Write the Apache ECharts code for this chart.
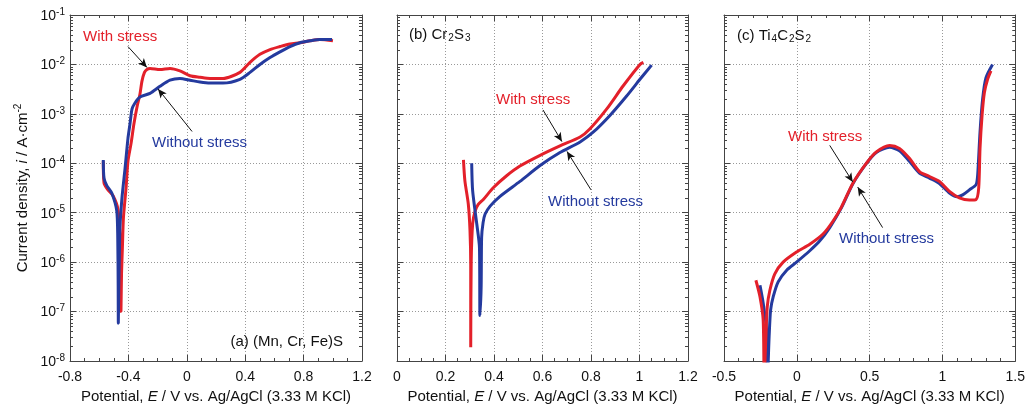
<!DOCTYPE html>
<html>
<head>
<meta charset="utf-8">
<script src="https://cdn.jsdelivr.net/npm/echarts@6/dist/echarts.min.js"></script>
<style>
  html, body { margin: 0; padding: 0; background: #fff; }
  #chart { width: 1028px; height: 409px; }
</style>
</head>
<body>
<div id="chart"></div>
<script>
// [E (V), i (A/cm2)]
const aWith = [
  [-0.572, 1.1e-4], [-0.567, 4e-5], [-0.540, 2.9e-5], [-0.505, 2.2e-5], [-0.471, 1.15e-5],
  [-0.458, 3.2e-6], [-0.452, 5e-7], [-0.451, 1e-7], [-0.447, 6e-7], [-0.441, 2e-6],
  [-0.434, 7.9e-6], [-0.416, 3.2e-5], [-0.403, 1.1e-4], [-0.382, 2.5e-4], [-0.362, 6.3e-4],
  [-0.341, 1.38e-3], [-0.321, 2.5e-3], [-0.307, 4.6e-3], [-0.290, 6.9e-3], [-0.273, 7.9e-3],
  [-0.252, 8.3e-3], [-0.184, 7.9e-3], [-0.115, 8.3e-3], [-0.047, 7.4e-3], [0.022, 5.9e-3],
  [0.09, 5.5e-3], [0.159, 5.2e-3], [0.248, 5.2e-3], [0.364, 6.9e-3], [0.433, 1.1e-2],
  [0.501, 1.6e-2], [0.570, 2.0e-2], [0.638, 2.3e-2], [0.707, 2.6e-2], [0.775, 2.75e-2],
  [0.844, 3.0e-2], [0.912, 3.2e-2], [1.001, 3.0e-2]
];
const aWithout = [
  [-0.572, 1.16e-4], [-0.567, 5.0e-5], [-0.547, 3.5e-5], [-0.514, 2.5e-5], [-0.480, 1.1e-5],
  [-0.473, 3.2e-6], [-0.470, 3.2e-7], [-0.469, 5.8e-8], [-0.466, 3.2e-7], [-0.462, 1.3e-6],
  [-0.458, 5e-6], [-0.444, 2e-5], [-0.423, 7.9e-5], [-0.403, 3.2e-4], [-0.389, 6.3e-4],
  [-0.375, 1.26e-3], [-0.355, 1.66e-3], [-0.321, 2.2e-3], [-0.252, 2.6e-3], [-0.184, 3.6e-3],
  [-0.115, 4.8e-3], [-0.047, 5.2e-3], [0.022, 4.8e-3], [0.09, 4.4e-3], [0.159, 4.2e-3],
  [0.248, 4.2e-3], [0.364, 5e-3], [0.433, 6.9e-3], [0.501, 1e-2], [0.570, 1.38e-2],
  [0.638, 1.8e-2], [0.707, 2.3e-2], [0.775, 2.75e-2], [0.844, 3.0e-2], [0.912, 3.2e-2],
  [0.995, 3.2e-2]
];
const bWith = [
  [0.274, 1.17e-4], [0.280, 4.4e-5], [0.294, 1.5e-5], [0.301, 4.4e-6], [0.304, 9e-7],
  [0.304, 1.9e-8], [0.306, 1e-6], [0.312, 6e-6], [0.322, 1.07e-5], [0.335, 1.47e-5],
  [0.356, 1.85e-5], [0.397, 3.2e-5], [0.452, 5.6e-5], [0.507, 8.8e-5], [0.590, 1.45e-4],
  [0.672, 2.25e-4], [0.755, 3.4e-4], [0.796, 5e-4], [0.865, 1.26e-3], [0.933, 3.7e-3],
  [1.002, 1e-2], [1.016, 1.1e-2]
];
const bWithout = [
  [0.308, 1e-4], [0.312, 2.75e-5], [0.329, 5.9e-6], [0.340, 2e-6], [0.342, 8.3e-8],
  [0.347, 3.2e-7], [0.349, 3.2e-6], [0.355, 6.3e-6], [0.363, 9.3e-6], [0.384, 1.36e-5],
  [0.425, 2.15e-5], [0.507, 4.3e-5], [0.590, 9e-5], [0.672, 1.65e-4], [0.755, 2.7e-4],
  [0.810, 4.3e-4], [0.878, 9.3e-4], [0.947, 2.3e-3], [1.002, 5e-3], [1.050, 9.7e-3]
];
const cWith = [
  [-0.281, 4.3e-7], [-0.253, 2e-7], [-0.231, 6.8e-8], [-0.224, 5e-9], [-0.212, 3.2e-8],
  [-0.203, 1.26e-7], [-0.185, 2.7e-7], [-0.151, 5.8e-7], [-0.094, 1e-6], [-0.002, 1.6e-6],
  [0.089, 2.3e-6], [0.180, 3.7e-6], [0.249, 6.8e-6], [0.306, 1.3e-5], [0.386, 4e-5],
  [0.477, 1e-4], [0.546, 1.7e-4], [0.637, 2.3e-4], [0.705, 2e-4], [0.773, 1.26e-4],
  [0.842, 6.8e-5], [0.911, 5.4e-5], [0.979, 4.3e-5], [1.048, 2.7e-5], [1.116, 2e-5],
  [1.185, 1.8e-5], [1.231, 1.85e-5], [1.249, 3.2e-5], [1.258, 2e-4], [1.272, 9.3e-4],
  [1.288, 2.7e-3], [1.310, 5e-3], [1.333, 7.4e-3]
];
const cWithout = [
  [-0.253, 3.4e-7], [-0.231, 1.5e-7], [-0.208, 4.3e-8], [-0.201, 5e-9], [-0.190, 3.2e-8],
  [-0.180, 1.07e-7], [-0.162, 2e-7], [-0.128, 4e-7], [-0.071, 6.8e-7], [-0.002, 1e-6],
  [0.089, 1.7e-6], [0.158, 2.7e-6], [0.226, 5e-6], [0.306, 1.25e-5], [0.386, 3.9e-5],
  [0.477, 9.8e-5], [0.546, 1.65e-4], [0.637, 2.1e-4], [0.705, 1.8e-4], [0.773, 1.1e-4],
  [0.842, 6.3e-5], [0.911, 5e-5], [0.979, 3.9e-5], [1.048, 2.5e-5], [1.100, 2.1e-5],
  [1.139, 2.3e-5], [1.185, 2.9e-5], [1.231, 3.7e-5], [1.242, 5.9e-5], [1.258, 4.3e-4],
  [1.276, 2e-3], [1.299, 5.4e-3], [1.344, 1e-2]
];

// arrow start / end, in data units, per panel
const arrowsA = [[[-0.403, 2.3e-2], [-0.273, 8.7e-3]], [[0.036, 4.4e-4], [-0.197, 3.2e-3]]];
const arrowsB = [[[0.602, 1.2e-3], [0.680, 2.75e-4]], [[0.800, 2.9e-5], [0.701, 1.74e-4]]];
const arrowsC = [[[0.226, 2.3e-4], [0.384, 4.2e-5]], [[0.589, 5e-6], [0.418, 3.3e-5]]];

// log-axis minor tick multipliers and decades
const minorMult = [2, 3, 4, 5, 6, 7, 8, 9];
const decades = [1e-8, 1e-7, 1e-6, 1e-5, 1e-4, 1e-3, 1e-2];

const RED = '#e3202a';
const BLUE = '#243a9e';
const FONT = 'Liberation Sans, Arial, sans-serif';
const AX = '#444';

const panels = [
  { left: 70, width: 292, min: -0.8, max: 1.2, interval: 0.4, minor: 4 },
  { left: 397, width: 291, min: 0, max: 1.2, interval: 0.2, minor: 4 },
  { left: 724, width: 292, min: -0.5, max: 1.5, interval: 0.5, minor: 5 }
];

const chart = echarts.init(document.getElementById('chart'));

const frame = { show: true, onZero: false, lineStyle: { color: AX, width: 1 } };
const tick = { show: true, inside: true, length: 6, lineStyle: { color: AX } };
const minor = (n) => ({ show: true, splitNumber: n, length: 3, lineStyle: { color: AX } });
const grid = { show: true, lineStyle: { color: '#999', type: [1, 2], width: 1 } };

const grids = [], xAxes = [], yAxes = [];
panels.forEach((p, k) => {
  grids.push({ left: p.left, width: p.width, top: 15, height: 350 });
  xAxes.push({
    type: 'value', gridIndex: k, position: 'bottom', min: p.min, max: p.max, interval: p.interval,
    axisLine: frame, axisTick: tick, minorTick: minor(p.minor), splitLine: grid,
    axisLabel: { color: '#111', fontSize: 14, fontFamily: FONT, margin: 9 },
    name: '{n|Potential, }{i|E}{n| / V vs. Ag/AgCl (3.33 M KCl)}',
    nameLocation: 'middle', nameGap: 28,
    nameTextStyle: {
      rich: {
        n: { fontSize: 15, fontFamily: FONT, color: '#111' },
        i: { fontSize: 15, fontFamily: FONT, color: '#111', fontStyle: 'italic' }
      }
    }
  });
  xAxes.push({
    type: 'value', gridIndex: k, position: 'top', min: p.min, max: p.max, interval: p.interval,
    axisLine: frame, axisTick: tick, minorTick: minor(p.minor), splitLine: { show: false },
    axisLabel: { show: false }
  });
  const yLeft = {
    type: 'log', logBase: 10, gridIndex: k, position: 'left', min: 1e-8, max: 1e-1, splitNumber: 7,
    axisLine: frame, axisTick: tick, minorTick: { show: false }, splitLine: grid,
    axisLabel: {
      show: k === 0, margin: 5,
      formatter: (v) => '{b|10}{s|' + Math.round(Math.log10(v)) + '}',
      rich: {
        b: { fontSize: 14, fontFamily: FONT, color: '#111', lineHeight: 16, verticalAlign: 'bottom' },
        s: { fontSize: 10, fontFamily: FONT, color: '#111', lineHeight: 10, padding: [0, 0, 8, 0], verticalAlign: 'top' }
      }
    }
  };
  if (k === 0) {
    yLeft.name = '{n|Current density, }{i|i}{n| / A·cm}{s|-2}';
    yLeft.nameLocation = 'middle';
    yLeft.nameGap = 40;
    yLeft.nameTextStyle = {
      rich: {
        n: { fontSize: 15, fontFamily: FONT, color: '#111', lineHeight: 17, verticalAlign: 'bottom' },
        i: { fontSize: 15, fontFamily: FONT, color: '#111', fontStyle: 'italic', lineHeight: 17, verticalAlign: 'bottom' },
        s: { fontSize: 10, fontFamily: FONT, color: '#111', lineHeight: 10, padding: [0, 0, 9, 0], verticalAlign: 'top' }
      }
    };
  }
  yAxes.push(yLeft);
  yAxes.push({
    type: 'log', logBase: 10, gridIndex: k, position: 'right', min: 1e-8, max: 1e-1, splitNumber: 7,
    axisLine: frame, axisTick: tick, minorTick: { show: false }, splitLine: { show: false },
    axisLabel: { show: false }
  });
});

function curve(data, k, color, z, arrows) {
  const s = {
    type: 'line', data: data, xAxisIndex: 2 * k, yAxisIndex: 2 * k,
    showSymbol: false, smooth: 0.25, z: z,
    lineStyle: { color: color, width: 3 }, itemStyle: { color: color }
  };
  if (arrows) {
    s.markLine = {
      silent: true, symbol: ['none', 'arrow'], symbolSize: [6, 9],
      label: { show: false },
      lineStyle: { color: '#111', width: 1, type: 'solid' },
      data: arrows.map(a => [{ coord: a[0] }, { coord: a[1] }])
    };
  }
  return s;
}

// log minor ticks on both frame sides, placed through the y scale
function minorTicks(k) {
  const vals = [];
  decades.forEach(d => minorMult.forEach(m => vals.push([panels[k].min, d * m])));
  return {
    type: 'custom', xAxisIndex: 2 * k, yAxisIndex: 2 * k, silent: true, z: 1, clip: false,
    data: vals,
    renderItem: (params, api) => {
      const cs = params.coordSys;
      const y = Math.round(api.coord([api.value(0), api.value(1)])[1]) + 0.5;
      const st = { stroke: AX, lineWidth: 1 };
      return {
        type: 'group',
        children: [
          { type: 'line', shape: { x1: cs.x, y1: y, x2: cs.x + 3, y2: y }, style: st },
          { type: 'line', shape: { x1: cs.x + cs.width - 3, y1: y, x2: cs.x + cs.width, y2: y }, style: st }
        ]
      };
    }
  };
}

const txt = (x, y, text, color, align) => ({
  type: 'text', x: x, y: y, z: 100,
  style: { text: text, fill: color, font: '15px ' + FONT, align: align || 'left', verticalAlign: 'middle' }
});
const rtxt = (x, y, text, align) => ({
  type: 'text', x: x, y: y, z: 100,
  style: {
    text: text, align: align || 'left', verticalAlign: 'middle',
    rich: {
      n: { fontSize: 15, fontFamily: FONT, fill: '#111', lineHeight: 16, verticalAlign: 'top' },
      d: { fontSize: 10, fontFamily: FONT, fill: '#111', lineHeight: 10, padding: [9, 0, 0, 1], verticalAlign: 'bottom' }
    }
  }
});

chart.setOption({
  animation: false,
  grid: grids,
  xAxis: xAxes,
  yAxis: yAxes,
  series: [
    curve(aWith, 0, RED, 2, arrowsA),
    curve(aWithout, 0, BLUE, 3),
    curve(bWith, 1, RED, 2, arrowsB),
    curve(bWithout, 1, BLUE, 3),
    curve(cWithout, 2, BLUE, 2, arrowsC),
    curve(cWith, 2, RED, 3),
    minorTicks(0), minorTicks(1), minorTicks(2)
  ],
  graphic: [
    txt(83, 37, 'With stress', RED),
    txt(152, 143, 'Without stress', BLUE),
    rtxt(343, 342, '{n|(a) (Mn, Cr, Fe)S}', 'right'),
    txt(496, 100, 'With stress', RED),
    txt(548, 202, 'Without stress', BLUE),
    rtxt(409, 35, '{n|(b) Cr}{d|2}{n|S}{d|3}'),
    txt(788, 137, 'With stress', RED),
    txt(839, 239, 'Without stress', BLUE),
    rtxt(737, 36, '{n|(c) Ti}{d|4}{n|C}{d|2}{n|S}{d|2}')
  ]
});
</script>
</body>
</html>
